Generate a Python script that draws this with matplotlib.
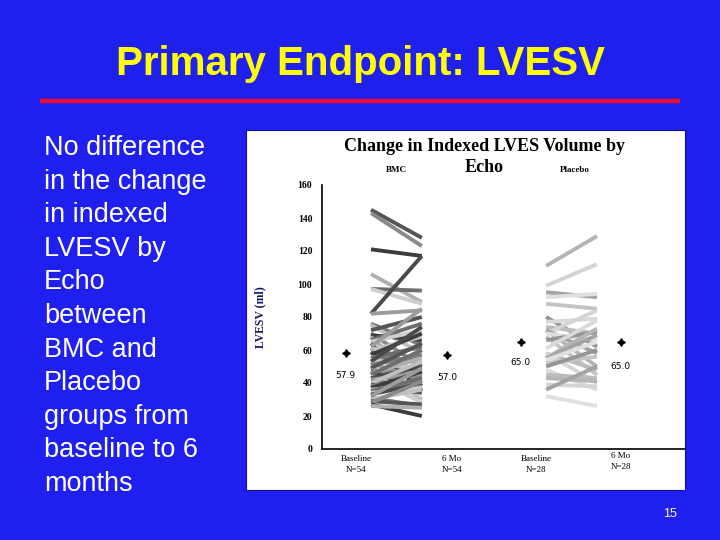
import numpy as np
import matplotlib.pyplot as plt
from matplotlib.patches import Rectangle
from matplotlib.lines import Line2D

# BMC group, indexed LVESV (ml), baseline and 6 months
bmc_base = [145, 143, 121, 106, 97, 97, 82, 82, 76, 75, 72, 70, 69, 68, 66, 65,
            64, 62, 61, 60, 59, 58, 57, 56, 55, 54, 53, 52, 51, 50, 49, 48, 47,
            46, 45, 44, 43, 42, 41, 40, 39, 38, 37, 36, 35, 34, 33, 32, 31, 30,
            29, 28, 27, 26]
bmc_6mo = [128, 123, 117, 89, 96, 88, 117, 84, 63, 58, 80, 50, 66, 40, 76, 72,
           35, 85, 45, 68, 38, 52, 70, 45, 62, 48, 74, 42, 57, 30, 64, 44, 36,
           55, 60, 28, 50, 46, 39, 53, 34, 41, 47, 39, 43, 37, 40, 49, 26, 36,
           27, 41, 20, 25]

# Placebo group
plc_base = [111, 99, 95, 92, 88, 80, 77, 74, 72, 70, 72, 70, 68, 66, 61, 58,
            55, 58, 55, 54, 52, 50, 48, 45, 43, 39, 36, 32]
plc_6mo = [129, 112, 92, 94, 85, 62, 79, 70, 50, 84, 58, 66, 45, 71, 78, 48,
           73, 40, 69, 65, 56, 60, 36, 43, 41, 38, 50, 26]

cat_labels = ["Baseline\nN=54", "6 Mo\nN=54", "Baseline\nN=28", "6 Mo\nN=28"]
bullet_lines = ["No difference", "in the change", "in indexed", "LVESV by",
                "Echo", "between", "BMC and", "Placebo", "groups from",
                "baseline to 6", "months"]

W, H = 720, 540
blue = "#1f1ff0"
fig = plt.figure(figsize=(7.2, 5.4), dpi=100)
fig.patch.set_facecolor(blue)

def fx(px):
    return px / W

def fy(py):
    return 1 - py / H

# slide title + red rule
fig.text(fx(360), fy(64), "Primary Endpoint: LVESV", color="#ffff00",
         fontsize=29, fontweight="bold", family="Liberation Sans",
         ha="center", va="center")
fig.add_artist(Line2D([fx(42), fx(678)], [fy(101), fy(101)], color="#e8103a",
                      lw=3.2))

# left bullet text
for i, s in enumerate(bullet_lines):
    fig.text(fx(44), fy(148 + i * 33.6), s, color="white", fontsize=19.5,
             family="Liberation Sans", ha="left", va="center")

fig.text(fx(670), fy(514), "15", color="white", fontsize=9,
         family="Liberation Sans", ha="center", va="center")

# white chart panel (behind the axes)
fig.add_artist(Rectangle((fx(246), fy(490)), fx(439), 360 / H,
                         facecolor="white", edgecolor="#101090", lw=0.8,
                         zorder=-5))

ax = fig.add_axes([fx(322), fy(449), fx(685 - 322), (449 - 185) / H])
ax.set_facecolor("none")
ax.set_xlim(0, 4)
ax.set_ylim(0, 160)
for sp in ["top", "right"]:
    ax.spines[sp].set_visible(False)
ax.spines["left"].set_linewidth(1.2)
ax.spines["bottom"].set_linewidth(1.2)
ax.set_yticks(range(0, 161, 20))
ax.set_xticks([])
ax.tick_params(axis="y", length=0, pad=7)
for t in ax.get_yticklabels():
    t.set_family("Liberation Serif")
    t.set_fontweight("bold")
    t.set_fontsize(7)

dark_cycle = ["#555555", "#8a8a8a", "#3c3c3c", "#b0b0b0", "#6e6e6e",
              "#cfcfcf", "#4a4a4a", "#9c9c9c", "#7d7d7d", "#c0c0c0"]
light_cycle = ["#b5b5b5", "#d4d4d4", "#a3a3a3", "#e0e0e0", "#c4c4c4",
               "#959595", "#dadada", "#bcbcbc"]

for i, (a, b) in enumerate(zip(bmc_base, bmc_6mo)):
    ax.plot([0.54, 1.10], [a, b], color=dark_cycle[i % len(dark_cycle)],
            lw=2.8, solid_capstyle="butt")
for i, (a, b) in enumerate(zip(plc_base, plc_6mo)):
    ax.plot([2.47, 3.03], [a, b], color=light_cycle[i % len(light_cycle)],
            lw=2.8, solid_capstyle="butt")

# group means
means = [np.mean(bmc_base), np.mean(bmc_6mo), np.mean(plc_base), np.mean(plc_6mo)]
mean_x = [0.26, 1.38, 2.19, 3.29]
label_off = [-16, -16, -15, -18]
for x, m, off in zip(mean_x, means, label_off):
    ax.plot(x, m, marker=(4, 1, 0), color="black", ms=5.5)
    ax.annotate(f"{m:.1f}", (x, m), xytext=(0, off), textcoords="offset points",
                ha="center", va="center", fontsize=6.5, family="DejaVu Sans")

cat_x = [0.38, 1.43, 2.36, 3.29]
cat_dy = [0, 0, 0, 2]
for x, lab, dy in zip(cat_x, cat_labels, cat_dy):
    ax.annotate(lab, (x, 0), xytext=(0, -4 + dy), textcoords="offset points",
                ha="center", va="top", fontsize=6.5, family="Liberation Serif",
                linespacing=1.5)

ax.set_ylabel("LVESV (ml)", color="#161660", fontsize=8.5, fontweight="bold",
              family="Liberation Serif")
ax.yaxis.set_label_coords((266 - 322) / (685 - 322), (449 - 317) / (449 - 185))

fig.text(fx(484), fy(147), "Change in Indexed LVES Volume by", fontsize=13,
         fontweight="bold", family="Liberation Serif", ha="center", va="center")
fig.text(fx(484), fy(168), "Echo", fontsize=13, fontweight="bold",
         family="Liberation Serif", ha="center", va="center")
fig.text(fx(396), fy(170), "BMC", fontsize=6.5, fontweight="bold",
         family="Liberation Serif", ha="center", va="center")
fig.text(fx(575), fy(170), "Placebo", fontsize=6.5, fontweight="bold",
         family="Liberation Serif", ha="center", va="center")

fig.savefig("out.png", dpi=100, facecolor=blue)
